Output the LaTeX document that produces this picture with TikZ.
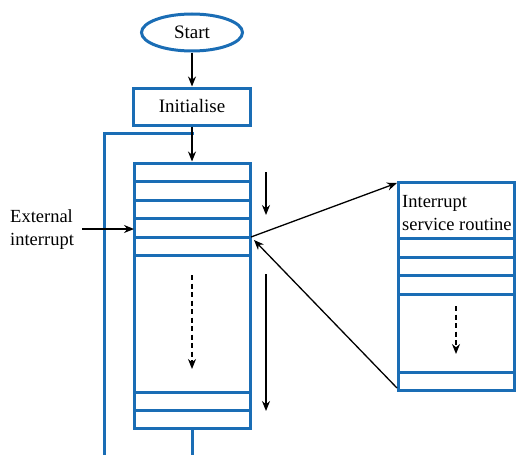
\documentclass[tikz,border=0pt]{standalone}
\usepackage{fontspec}
\setmainfont{Liberation Serif}
\usetikzlibrary{shapes.geometric,arrows.meta}
\definecolor{fblue}{HTML}{1A6DB5}
\begin{document}
\begin{tikzpicture}[x=1pt,y=-1pt,
  box/.style={draw=fblue,line width=3pt,inner sep=0pt},
  sep/.style={draw=fblue,line width=3pt},
  arr/.style={draw=black,line width=1.3pt,-{Stealth[length=10pt,width=8pt]}},
  darr/.style={arr,dash pattern=on 5pt off 3.5pt},
  lbl/.style={font=\fontsize{18.5}{23}\selectfont,inner sep=0pt}]
\useasboundingbox (0,0) rectangle (528,455);
\node[box,ellipse,minimum width=101pt,minimum height=37pt,font=\fontsize{19}{23}\selectfont] (start) at (192,32.5) {Start};
\node[box,minimum width=117pt,minimum height=37pt,font=\fontsize{19}{23}\selectfont] (init) at (192,106.5) {Initialise};
\node[box,minimum width=116pt,minimum height=265pt] (main) at (192,295.5) {};
\node[box,minimum width=116pt,minimum height=208pt] (isr) at (456,286) {};
% separators in main
\foreach \y in {181.5,200,218.5,237,255.5,392,410}
  \draw[sep] (134,\y) -- (250,\y);
\foreach \y in {238,257,275.5,294,372}
  \draw[sep] (398,\y) -- (514,\y);
% loop lines
\coordinate (j) at (192,133);
\coordinate (lc) at (104,133);
\coordinate (lb) at (104,456);
\coordinate (mb) at (192,456);
\draw[sep,line cap=rect] (j) -- (lc) -- (lb);
\draw[sep] (main.south) -- (mb);
% flow arrows
\draw[arr] (start.south) -- (init.north);
\draw[arr] (init.south) -- (main.north);
% text
\node[lbl,anchor=base west] (ext1) at (10,222) {External};
\node[lbl,anchor=base west] (ext2) at (10,245) {interrupt};
\node[lbl,anchor=base west] (isr1) at (402,207) {Interrupt};
\node[lbl,anchor=base west] (isr2) at (402,230) {service routine};
\coordinate (extS) at (82,229);
\coordinate (extE) at (134,229);
\draw[arr] (extS) -- (extE);
% to ISR and back
\coordinate (outP) at (251,237);
\coordinate (isrTL) at (397,183);
\coordinate (isrBL) at (397,388);
\coordinate (inP) at (254,240);
\draw[arr] (outP) -- (isrTL);
\draw[arr] (isrBL) -- (inP);
% side arrows
\coordinate (a1) at (266,172);
\coordinate (a2) at (266,215);
\coordinate (b1) at (266,274);
\coordinate (b2) at (266,411);
\draw[arr] (a1) -- (a2);
\draw[arr] (b1) -- (b2);
% dashed arrows
\coordinate (d1) at (192,275);
\coordinate (d2) at (192,369);
\draw[darr] (d1) -- (d2);
\coordinate (e1) at (456,306);
\coordinate (e2) at (456,354);
\draw[darr] (e1) -- (e2);
\end{tikzpicture}
\end{document}
